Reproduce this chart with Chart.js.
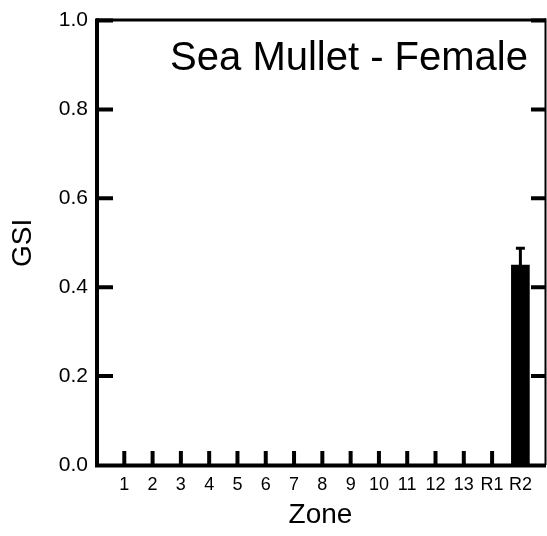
<!DOCTYPE html>
<html>
<head>
<meta charset="utf-8">
<script src="https://cdn.jsdelivr.net/npm/chart.js@4/dist/chart.umd.min.js"></script>
<style>
  body { margin: 0; background: #fff; }
  #wrap { width: 547px; height: 536px; }
</style>
</head>
<body>
<div id="wrap"><canvas id="gsi-chart" width="547" height="536"></canvas></div>
<script>
const zones = ['1', '2', '3', '4', '5', '6', '7', '8', '9', '10', '11', '12', '13', 'R1', 'R2'];
const gsiMean = [0, 0, 0, 0, 0, 0, 0, 0, 0, 0, 0, 0, 0, 0, 0.45];
const gsiErr = [0, 0, 0, 0, 0, 0, 0, 0, 0, 0, 0, 0, 0, 0, 0.04];
const yTicks = [0, 0.2, 0.4, 0.6, 0.8, 1.0];

const FONT = "'Liberation Sans', Arial, sans-serif";

//-------------------------------------------------//

// error bars (upper half only) on top of the bars
const errorBars = {
    id: 'errorBars',
    afterDatasetsDraw(chart) {
        const ctx = chart.ctx;
        const y = chart.scales.y;
        const meta = chart.getDatasetMeta(0);
        ctx.save();
        ctx.strokeStyle = '#000';
        meta.data.forEach((bar, i) => {
            if (!gsiErr[i]) return;
            const top = y.getPixelForValue(gsiMean[i] + gsiErr[i]);
            ctx.lineWidth = 3;
            ctx.beginPath();
            ctx.moveTo(bar.x, bar.y);
            ctx.lineTo(bar.x, top);
            ctx.stroke();
            ctx.beginPath();
            ctx.moveTo(bar.x - 4.5, top + 1);
            ctx.lineTo(bar.x + 4.5, top + 1);
            ctx.stroke();
        });
        ctx.restore();
    }
};

// frame, inward tick marks and the panel label
const frame = {
    id: 'frame',
    afterDraw(chart) {
        const ctx = chart.ctx;
        const a = chart.chartArea;
        const x = chart.scales.x;
        const y = chart.scales.y;
        ctx.save();
        ctx.strokeStyle = '#000';
        ctx.lineCap = 'butt';

        // top + right (thin)
        ctx.lineWidth = 3;
        ctx.beginPath();
        ctx.moveTo(a.left, a.top - 0.5);
        ctx.lineTo(a.right + 1, a.top - 0.5);
        ctx.stroke();
        ctx.lineWidth = 2;
        ctx.beginPath();
        ctx.moveTo(a.right + 0.5, a.top - 2);
        ctx.lineTo(a.right + 0.5, a.bottom);
        ctx.stroke();

        // left + bottom (thick)
        ctx.lineWidth = 4;
        ctx.beginPath();
        ctx.moveTo(a.left + 1, a.top - 2);
        ctx.lineTo(a.left + 1, a.bottom + 2.5);
        ctx.moveTo(a.left - 1, a.bottom + 0.5);
        ctx.lineTo(a.right + 1, a.bottom + 0.5);
        ctx.stroke();

        // y ticks, both sides, pointing in
        yTicks.forEach(v => {
            if (v === 0) return;
            const py = y.getPixelForValue(v);
            ctx.beginPath();
            ctx.moveTo(a.left, py);
            ctx.lineTo(a.left + 17, py);
            ctx.moveTo(a.right + 1, py);
            ctx.lineTo(a.right - 14, py);
            ctx.stroke();
        });

        // x ticks pointing up
        zones.forEach((z, i) => {
            const px = x.getPixelForValue(i + 1);
            ctx.beginPath();
            ctx.moveTo(px, a.bottom);
            ctx.lineTo(px, a.bottom - 14);
            ctx.stroke();
        });

        ctx.fillStyle = '#000';
        ctx.font = '40px ' + FONT;
        ctx.textAlign = 'right';
        ctx.textBaseline = 'alphabetic';
        ctx.fillText('Sea Mullet - Female', a.right - 17, a.top + 49);
        ctx.restore();
    }
};

const ctx = document.getElementById('gsi-chart').getContext('2d');
const chart = new Chart(ctx, {
    type: 'bar',
    data: {
        datasets: [{
            label: 'GSI',
            backgroundColor: '#000',
            borderWidth: 0,
            barThickness: 18,
            data: gsiMean.map((v, i) => ({ x: i + 1, y: v }))
        }]
    },
    options: {
        responsive: false,
        animation: false,
        layout: { padding: { top: 16, right: 2, left: 0, bottom: 0 } },
        plugins: {
            legend: { display: false },
            tooltip: { enabled: false }
        },
        scales: {
            x: {
                type: 'linear',
                offset: false,
                min: 0,
                max: 15.87,
                afterBuildTicks: s => { s.ticks = zones.map((z, i) => ({ value: i + 1 })); },
                afterFit: s => { s.height = 71; },
                grid: { display: false, drawTicks: false, offset: false },
                border: { display: false },
                ticks: {
                    autoSkip: false,
                    maxRotation: 0,
                    padding: 9,
                    color: '#000',
                    font: { family: FONT, size: 18 },
                    callback: v => zones[v - 1]
                },
                title: {
                    display: true,
                    text: 'Zone',
                    color: '#000',
                    font: { family: FONT, size: 28 },
                    padding: { top: 0, bottom: 4 }
                }
            },
            y: {
                min: 0,
                max: 1,
                afterBuildTicks: s => { s.ticks = yTicks.map(v => ({ value: v })); },
                afterFit: s => { s.width = 96; },
                grid: { display: false, drawTicks: false },
                border: { display: false },
                ticks: {
                    padding: 8,
                    color: '#000',
                    font: { family: FONT, size: 21 },
                    callback: v => v.toFixed(1)
                },
                title: {
                    display: true,
                    text: 'GSI',
                    color: '#000',
                    font: { family: FONT, size: 28 },
                    padding: { top: 6, bottom: 0 }
                }
            }
        }
    },
    plugins: [errorBars, frame]
});
</script>
</body>
</html>
